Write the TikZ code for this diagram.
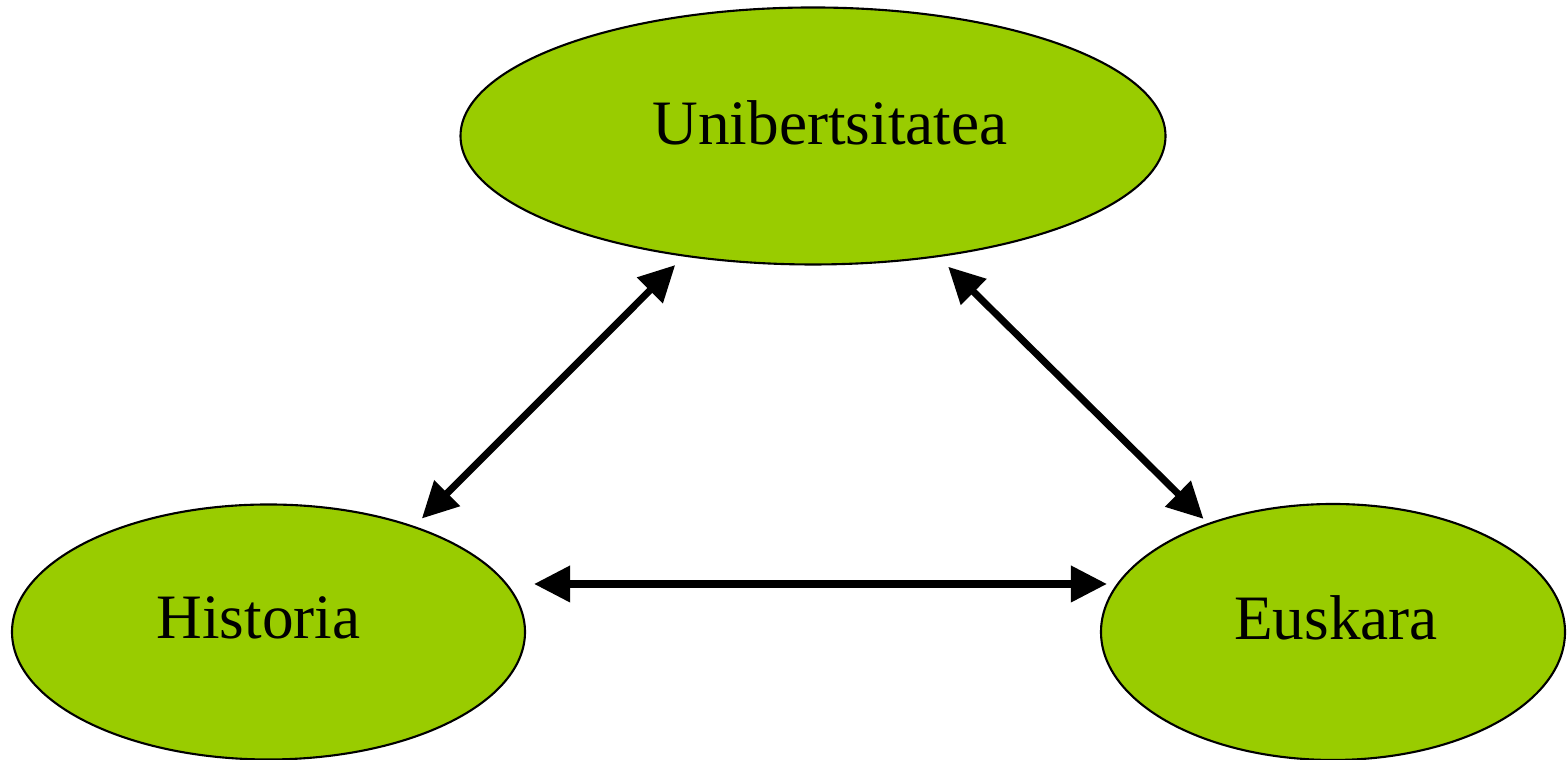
\documentclass[tikz,border=0pt]{standalone}
\usepackage{fontspec}
\setmainfont{Liberation Serif}
\usepackage{xcolor}
\usepackage{tikz}
\usetikzlibrary{shapes.geometric,arrows.meta}
\definecolor{blobgreen}{HTML}{99CC00}
\tikzset{blob/.style={ellipse, draw=black, line width=0.6pt, fill=blobgreen, inner sep=0pt},
  txt/.style={font=\fontsize{18}{22}\selectfont},
  link/.style={{Triangle[length=3.6mm,width=3.5mm]}-{Triangle[length=3.6mm,width=3.5mm]}, line width=2pt}}

\begin{document}
\begin{tikzpicture}
   \useasboundingbox (0,0) rectangle (15.67,7.60);
   \node[blob, minimum width=7.05cm, minimum height=2.57cm,
     label={[txt, xshift=1.7mm, yshift=1.3mm]center:Unibertsitatea}] (uni) at (8.13,6.24) {};
   \node[blob, minimum width=5.13cm, minimum height=2.55cm,
     label={[txt, xshift=-1mm, yshift=1.4mm]center:Historia}] (hist) at (2.685,1.28) {};
   \node[blob, minimum width=4.64cm, minimum height=2.56cm,
     label={[txt, xshift=0.3mm, yshift=1.4mm]center:Euskara}] (eus) at (13.33,1.28) {};
   \draw[link, shorten <=1.06mm, shorten >=1.2mm] (hist.36) -- (uni.223);
   \draw[link, shorten <=1.37mm, shorten >=0.6mm] (uni.316) -- (eus.139);
   \draw[link, shorten <=0.8mm, shorten >=-0.7mm] ([yshift=4.8mm]hist.east) -- ([yshift=4.8mm]eus.west);
\end{tikzpicture}
\end{document}
